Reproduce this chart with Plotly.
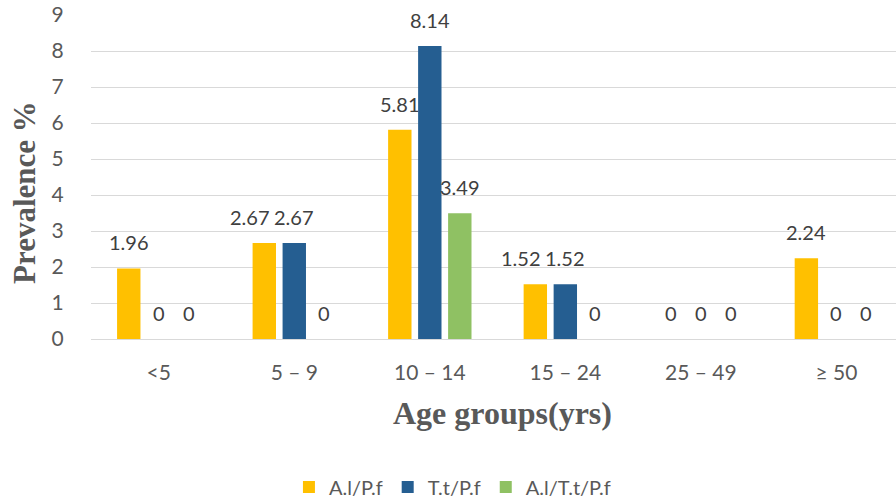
import plotly.graph_objects as go

# Age groups and prevalence (%) of each co-infection type
age_groups = ["<5", "5 – 9", "10 – 14", "15 – 24", "25 – 49", "≥ 50"]
al_pf = [1.96, 2.67, 5.81, 1.52, 0, 2.24]
tt_pf = [0, 2.67, 8.14, 1.52, 0, 0]
al_tt_pf = [0, 0, 3.49, 0, 0, 0]

series_names = ["A.l/P.f", "T.t/P.f", "A.l/T.t/P.f"]
series_values = [al_pf, tt_pf, al_tt_pf]
series_colors = ["#FFC000", "#255E91", "#8FC163"]

label_font = "Lato, 'Open Sans', sans-serif"
title_font = "'Liberation Serif', 'Times New Roman', serif"

# horizontal pixel offset of each series' bar from its category centre
slot_px = 30
# px per y unit, used to tell when two neighbouring labels sit on one row
px_per_unit = 324 / 9

fig = go.Figure()
value_labels = []
for k, (name, vals, color) in enumerate(zip(series_names, series_values, series_colors)):
    fig.add_trace(go.Bar(
        x=age_groups,
        y=vals,
        name=name,
        marker=dict(color=color, line=dict(width=0)),
        hoverinfo="x+y+name",
    ))
    for i, (grp, v) in enumerate(zip(age_groups, vals)):
        nudge = 0
        # push a label left when the label to its right sits on the same row
        if k + 1 < len(series_values) and v > 0:
            right = series_values[k + 1][i]
            if right > 0 and abs(right - v) * px_per_unit < 18:
                nudge = -14
        value_labels.append(dict(
            x=grp, y=v, xref="x", yref="y",
            text=f"{v:g}",
            xshift=(k - 1) * slot_px + nudge,
            yshift=26,
            xanchor="center", yanchor="middle",
            showarrow=False,
            font=dict(family=label_font, size=20, color="#404040"),
        ))

fig.update_layout(
    width=896,
    height=499,
    margin=dict(l=91, r=0, t=15, b=160, autoexpand=False),
    paper_bgcolor="white",
    plot_bgcolor="white",
    barmode="group",
    bargap=0.336,
    bargroupgap=0.22,
    showlegend=True,
    legend=dict(
        orientation="h",
        x=0.449,
        xanchor="center",
        yref="container",
        y=(499 - 487) / 499,
        yanchor="middle",
        font=dict(family=label_font, size=20, color="#595959"),
        itemwidth=30,
        traceorder="normal",
    ),
    xaxis=dict(
        range=[-0.5, 5.44],
        showgrid=False,
        showline=False,
        zeroline=False,
        ticks="outside",
        ticklen=15,
        tickcolor="rgba(0,0,0,0)",
        tickfont=dict(family=label_font, size=21, color="#595959"),
    ),
    yaxis=dict(
        range=[0, 9],
        dtick=1,
        showgrid=True,
        gridcolor="#D9D9D9",
        gridwidth=1,
        zeroline=True,
        zerolinecolor="#D9D9D9",
        zerolinewidth=1,
        showline=False,
        ticks="outside",
        ticklen=22,
        tickcolor="rgba(0,0,0,0)",
        tickfont=dict(family=label_font, size=21, color="#595959"),
    ),
    annotations=value_labels + [
        dict(
            text="<b>Age groups(yrs)</b>",
            xref="paper", yref="paper",
            x=(502 - 91) / 805, y=(339 - 413) / 324,
            xanchor="center", yanchor="middle",
            showarrow=False,
            font=dict(family=title_font, size=32, color="#595959"),
        ),
        dict(
            text="<b>Prevalence %</b>",
            xref="paper", yref="paper",
            x=(24 - 91) / 805, y=(339 - 193) / 324,
            xanchor="center", yanchor="middle",
            textangle=-90,
            showarrow=False,
            font=dict(family=title_font, size=31, color="#595959"),
        ),
    ],
)

fig.write_html("out.html")
